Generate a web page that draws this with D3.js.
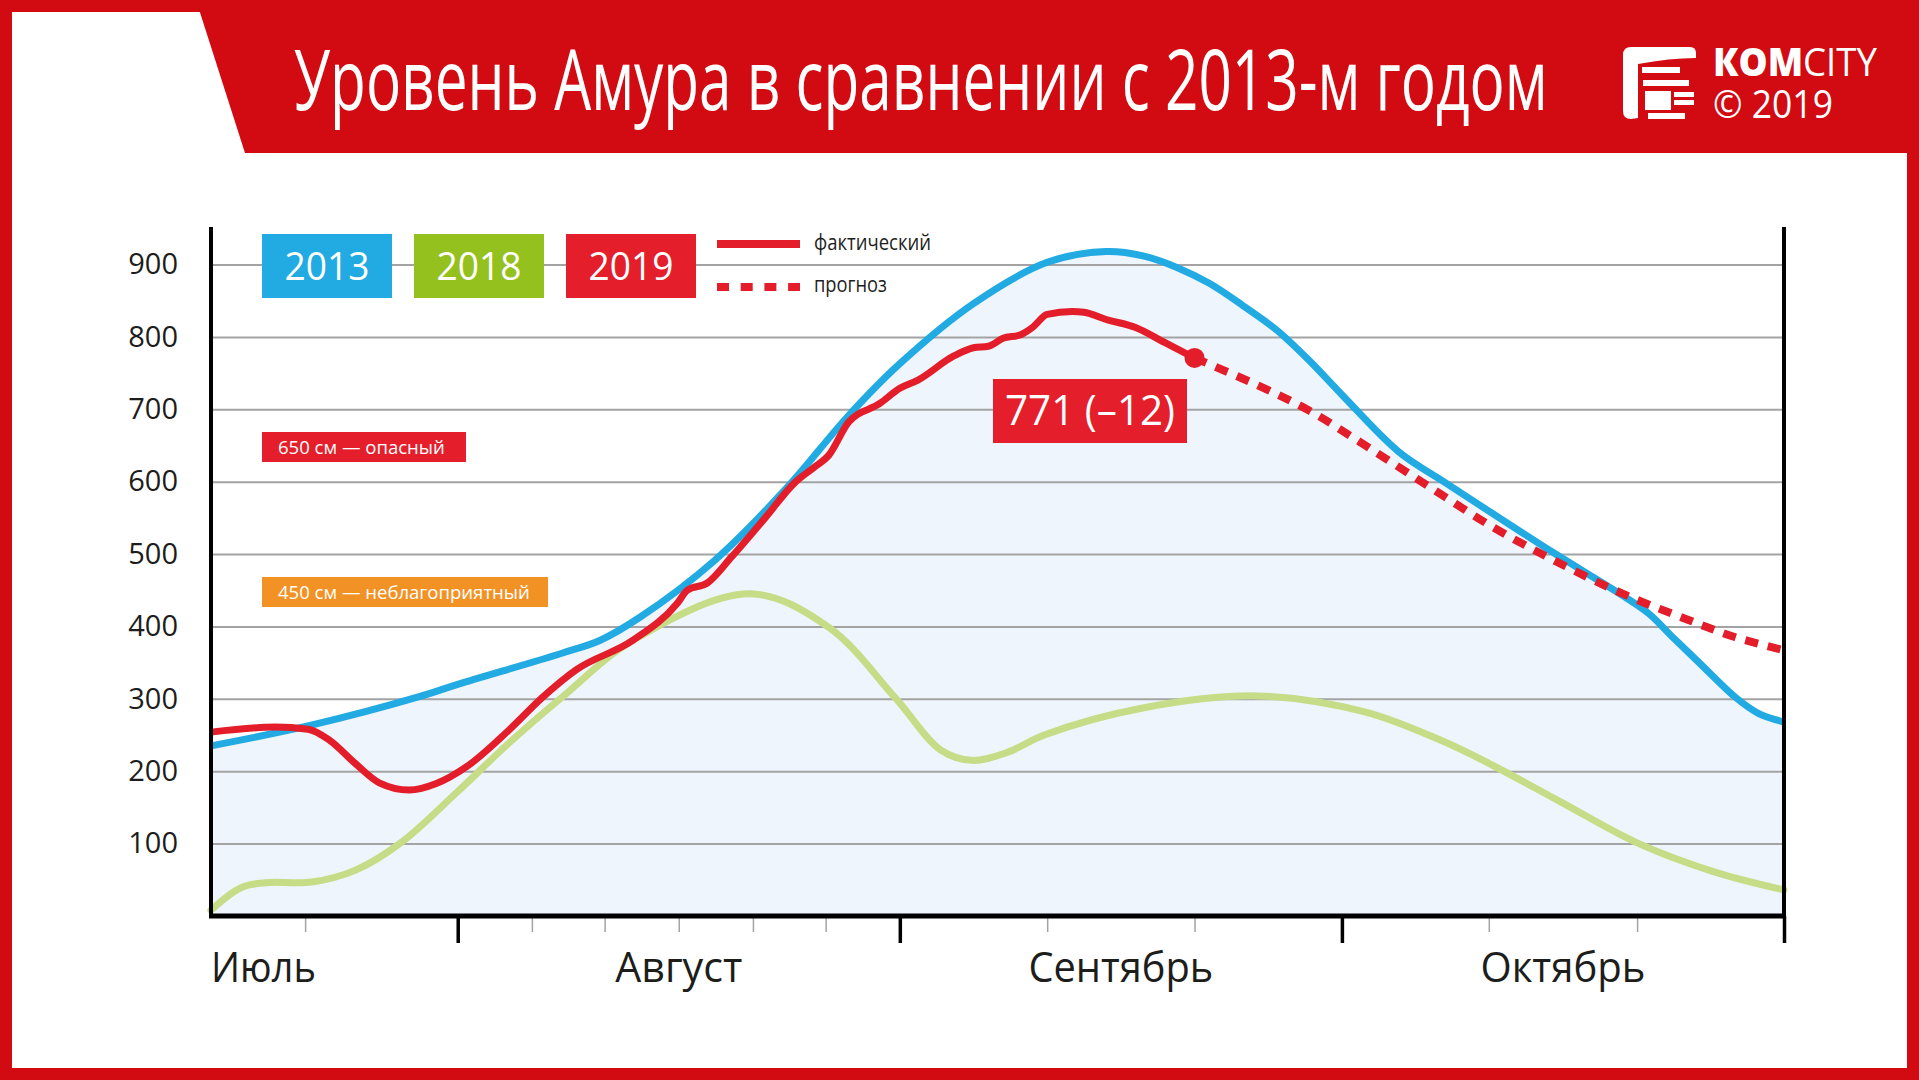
<!DOCTYPE html>
<html><head><meta charset="utf-8">
<script src="https://cdn.jsdelivr.net/npm/d3@7"></script>
<style>html,body{margin:0;padding:0;background:#d20a11;}svg{display:block;}text{font-family:"Open Sans","Noto Sans",sans-serif;}</style>
</head><body>
<svg id="c" width="1919" height="1080"></svg>
<script>
// ---------- DATA ----------
const title = "Уровень Амура в сравнении с 2013-м годом";
const months = ["Июль", "Август", "Сентябрь", "Октябрь"];
const yTicks = [100, 200, 300, 400, 500, 600, 700, 800, 900];
const xStart = "07-14.7", xEnd = "11-01";
const majorTicks = ["08-01", "09-01", "10-01", "11-01"];
const minorTicks = ["07-21.3", "08-06.2", "08-11.3", "08-16.5", "08-21.7", "08-26.8", "09-11", "09-21", "10-11.3", "10-21.7"];

const dates2013 = ["07-14.7","07-21.8","07-29.3","08-01","08-08.3","08-11","08-13.8","08-19","08-24.1","08-28.3","09-01","09-06","09-11","09-15","09-17.5","09-19.8","09-22","09-24.3","09-26.6","09-28.8","10-01.1","10-05","10-08.3","10-15.9","10-20.1","10-22.5","10-24.2","10-26.1","10-28.6","10-30.2","11-01"];
const level2013 = [235,264,303,320,363,381,413,491,592,689,763,846,903,918,912,896,874,843,809,767,718,641,598,501,450,418,385,349,302,280,268];

const dates2018 = ["07-14.7","07-16.8","07-18.5","07-21.8","07-24.8","07-28","08-01","08-04.6","08-08.3","08-13.3","08-21.5","08-27","08-31.7","09-03.8","09-05.9","09-08.3","09-10.8","09-17.4","09-25.3","10-02.6","10-07.9","10-11.3","10-16.4","10-21.7","10-27.1","11-01"];
const level2018 = [8,39,46,47,63,101,172,239,302,381,445,399,301,229,215,226,250,287,304,282,243,211,157,101,61,36];

const dates2019 = ["07-14.7","07-19.2","07-21.5","07-23","07-24.8","07-26.5","07-28.6","07-30.5","08-01.6","08-04.6","08-07","08-09.3","08-13.3","08-16.4","08-17.1","08-18.5","08-20.2","08-22.6","08-24.6","08-26","08-27","08-28.4","08-30.6","09-01","09-02.2","09-04.7","09-06","09-07","09-08","09-09.2","09-10","09-11","09-12.7","09-13.5","09-15","09-17","09-19","09-21"];
const level2019 = [254,261,258,243,211,184,174,183,206,257,303,340,381,432,450,460,496,551,598,620,636,682,708,729,740,774,785,787,798,803,813,831,835,834,824,813,792,771];

const datesForecast = ["09-21","09-25.3","09-28.8","10-02.8","10-07.2","10-11.6","10-15.9","10-20.6","10-25.3","10-28.6","11-01"];
const levelForecast = [771,733,698,648,592,537,491,446,409,385,367];

const seriesNames = ["2013", "2018", "2019"];
const lineLegend = ["фактический", "прогноз"];
const thresholds = ["650 см — опасный", "450 см — неблагоприятный"];
const annotation = "771 (–12)";

// ---------- HELPERS ----------
const daysIn = {7:31, 8:31, 9:30, 10:31, 11:30};
function toT(s) { const p = s.split("-"); const m = +p[0], d = parseFloat(p[1]); return (m - 8) + (d - 1) / daysIn[m]; }
const pts = (ds, vs) => ds.map((d, i) => ({t: toT(d), v: vs[i]}));

const C = {blue:"#22aae2", green:"#c6dc86", red:"#e31e2a", orange:"#f29225", header:"#d20a11", fill:"#eef5fd", grid:"#a3a3a3", text:"#1d1d1b"};

const svg = d3.select("#c");

// text squeezed horizontally to a target width (condensed look)
function fitText(parent, str, o) {
  const g = parent.append("g");
  const t = g.append("text").attr("x",0).attr("y",0).attr("fill",o.fill || C.text)
    .attr("font-size",o.size).attr("font-weight",o.weight || 400)
    .attr("text-anchor",o.anchor || "start");
  if (Array.isArray(str)) str.forEach(s => t.append("tspan").attr("font-weight",s.w).text(s.t));
  else t.text(str);
  const len = t.node().getComputedTextLength();
  const s = o.w / len;
  g.attr("transform",`translate(${o.x},${o.y}) scale(${s},1)`);
  return g;
}

// background & frame
svg.append("rect").attr("width",1919).attr("height",1080).attr("fill",C.header);
svg.append("rect").attr("x",12).attr("y",12).attr("width",1895).attr("height",1056).attr("fill","#fff");
svg.append("path").attr("d","M196,0 L1919,0 L1919,153 L245,153 Z").attr("fill",C.header);

// title
fitText(svg, title, {x:294, y:110, w:1254, size:84, fill:"#fff"});

// logo
const lg = svg.append("g");
lg.append("path").attr("d","M1631,47 L1690,47 Q1696,47 1696,53 L1696,58 Q1670,58 1638,64 L1638,118 L1631,119 Q1623,119 1623,111 L1623,55 Q1623,47 1631,47 Z").attr("fill","#fff");
[[1642,67,38,6],[1643,80,46,6],[1645,91,26,19],[1674,92,20,5],[1674,100,20,5],[1648,113,37,6]].forEach(r=>{
  lg.append("rect").attr("x",r[0]).attr("y",r[1]).attr("width",r[2]).attr("height",r[3]).attr("fill","#fff");
});
fitText(lg, [{t:"КОМ", w:800}, {t:"CITY", w:400}], {x:1713, y:76, w:164, size:38, fill:"#fff"});
fitText(lg, "© 2019", {x:1713, y:118, w:120, size:39, fill:"#fff"});

// ---------- SCALES ----------
const x = d3.scaleLinear().domain([toT(xStart), toT(xEnd)]).range([211, 1784]);
const y = d3.scaleLinear().domain([0, 900]).range([916, 264.5]);

const d13 = pts(dates2013, level2013), d18 = pts(dates2018, level2018), d19 = pts(dates2019, level2019), dF = pts(datesForecast, levelForecast);

const smooth = d3.curveCatmullRom.alpha(0.5);
const lineSmooth = d3.line().x(d => x(d.t)).y(d => y(d.v)).curve(smooth);
const lineMono = d3.line().x(d => x(d.t)).y(d => y(d.v)).curve(d3.curveMonotoneX);
const area = d3.area().x(d => x(d.t)).y0(y(0)).y1(d => y(d.v)).curve(smooth);

svg.append("path").datum(d13).attr("d",area).attr("fill",C.fill);

// gridlines + y labels
const gy = svg.append("g").attr("transform","translate(211,0)")
  .call(d3.axisLeft(y).tickValues(yTicks).tickSize(-(1784-211)).tickPadding(33));
gy.select(".domain").remove();
gy.selectAll(".tick line").attr("stroke",C.grid).attr("stroke-width",2);
gy.selectAll(".tick text").attr("fill",C.text).attr("font-size",29).attr("font-family","'Open Sans',sans-serif");

// series
svg.append("path").datum(d18).attr("d",lineSmooth).attr("fill","none").attr("stroke",C.green).attr("stroke-width",7).attr("stroke-linecap","round");
svg.append("path").datum(d13).attr("d",lineSmooth).attr("fill","none").attr("stroke",C.blue).attr("stroke-width",7);
svg.append("path").datum(dF).attr("d",lineSmooth).attr("fill","none").attr("stroke",C.red).attr("stroke-width",8).attr("stroke-dasharray","13,10");
svg.append("path").datum(d19).attr("d",lineMono).attr("fill","none").attr("stroke",C.red).attr("stroke-width",7).attr("stroke-linejoin","round");
const last = d19[d19.length-1];
svg.append("circle").attr("cx",x(last.t)).attr("cy",y(last.v)).attr("r",10).attr("fill",C.red);

// axes
svg.append("line").attr("x1",211).attr("x2",211).attr("y1",227).attr("y2",916).attr("stroke","#000").attr("stroke-width",4);
svg.append("line").attr("x1",1784).attr("x2",1784).attr("y1",227).attr("y2",918).attr("stroke","#000").attr("stroke-width",4);
const gMinor = svg.append("g").attr("transform","translate(0,916)")
  .call(d3.axisBottom(x).tickValues(minorTicks.map(toT)).tickSize(16).tickFormat(""));
gMinor.select(".domain").remove();
gMinor.selectAll(".tick line").attr("stroke",C.grid).attr("stroke-width",1.5);
const gMajor = svg.append("g").attr("transform","translate(0,916)")
  .call(d3.axisBottom(x).tickValues(majorTicks.map(toT)).tickSize(27).tickFormat(""));
gMajor.select(".domain").remove();
gMajor.selectAll(".tick line").attr("stroke","#000").attr("stroke-width",3.5);
svg.append("line").attr("x1",209).attr("x2",1786).attr("y1",916).attr("y2",916).attr("stroke","#000").attr("stroke-width",5);

// month labels
const monthW = [105, 127, 185, 165];
months.forEach((m, i) => {
  if (i === 0) fitText(svg, m, {x:x(toT(xStart)), y:982, w:monthW[i], size:42});
  else fitText(svg, m, {x:x(i - 1 + 0.5), y:982, w:monthW[i], size:42, anchor:"middle"});
});

// legend boxes
const boxCols = [C.blue, "#95c11f", "#e41e2b"];
seriesNames.forEach((s, i) => {
  const bx = 262 + i * 152;
  svg.append("rect").attr("x",bx).attr("y",234).attr("width",130).attr("height",64).attr("fill",boxCols[i]);
  fitText(svg, s, {x:bx+65, y:280, w:85, size:39, fill:"#fff", anchor:"middle"});
});
svg.append("line").attr("x1",717).attr("x2",800).attr("y1",244).attr("y2",244).attr("stroke",C.red).attr("stroke-width",8);
svg.append("line").attr("x1",717).attr("x2",800).attr("y1",287).attr("y2",287).attr("stroke",C.red).attr("stroke-width",8).attr("stroke-dasharray","12,11.7");
fitText(svg, lineLegend[0], {x:814, y:250, w:117, size:21});
fitText(svg, lineLegend[1], {x:814, y:292, w:73, size:21});

// threshold labels
const thrCols = ["#e41e2b", C.orange], thrY = [432, 577], thrW = [204, 286], thrTW = [167, 252];
thresholds.forEach((s, i) => {
  svg.append("rect").attr("x",262).attr("y",thrY[i]).attr("width",thrW[i]).attr("height",30).attr("fill",thrCols[i]);
  fitText(svg, s, {x:278, y:thrY[i]+22, w:thrTW[i], size:19, fill:"#fff"});
});

// annotation
svg.append("rect").attr("x",993).attr("y",379).attr("width",194).attr("height",64).attr("fill","#e41e2b");
fitText(svg, annotation, {x:1090, y:425, w:170, size:42, fill:"#fff", anchor:"middle"});
</script>
</body></html>
